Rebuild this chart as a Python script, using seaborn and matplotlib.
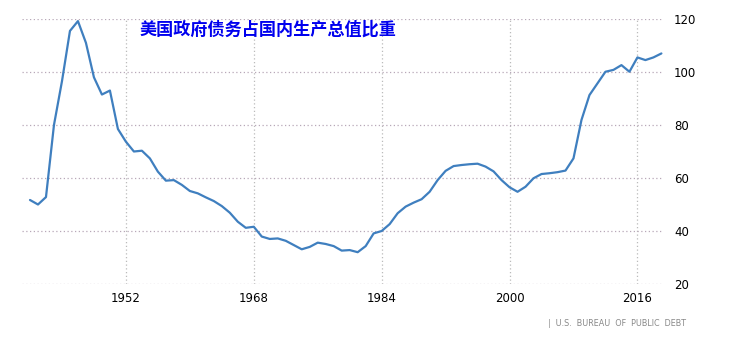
import matplotlib
matplotlib.use("Agg")
import matplotlib.pyplot as plt
import seaborn as sns
import pandas as pd
import numpy as np

years = list(range(1940, 2020))
debt_to_gdp = [
    51.7, 50.0, 52.8, 80.0, 96.5, 115.5, 119.2, 111.0, 98.0, 91.5,
    93.0, 78.5, 73.7, 70.0, 70.3, 67.4, 62.4, 59.0, 59.2, 57.4,
    55.1, 54.2, 52.7, 51.3, 49.4, 46.9, 43.5, 41.2, 41.6, 37.9,
    37.0, 37.2, 36.3, 34.7, 33.1, 34.0, 35.6, 35.1, 34.3, 32.6,
    32.8, 32.0, 34.3, 39.1, 40.0, 42.6, 46.7, 49.2, 50.7, 52.0,
    54.8, 59.2, 62.7, 64.5, 64.9, 65.2, 65.4, 64.3, 62.5, 59.2,
    56.5, 54.8, 56.7, 59.9, 61.5, 61.8, 62.2, 62.8, 67.4, 81.9,
    91.3, 95.7, 100.1, 100.8, 102.6, 100.1, 105.5, 104.5, 105.5, 107.0,
]
x_ticks = [1952, 1968, 1984, 2000, 2016]
y_ticks = [20, 40, 60, 80, 100, 120]
title = "美国政府债务占国内生产总值比重"
source = "|  U.S.  BUREAU  OF  PUBLIC  DEBT"

df = pd.DataFrame({"year": years, "value": debt_to_gdp})

sns.set_theme(style="white")
plt.rcParams["font.family"] = ["DejaVu Sans", "Noto Sans CJK SC"]

fig = plt.figure(figsize=(7.3, 3.4), dpi=100)
ax = fig.add_axes([22 / 730, 1 - 284 / 340, (663 - 22) / 730, (284 - 19) / 340])

sns.lineplot(data=df, x="year", y="value", ax=ax, color="#3f7fbf", linewidth=1.6,
             solid_joinstyle="round", solid_capstyle="round")

ax.set_xlim(1939, 2019.2)
ax.set_ylim(20, 120)
ax.set_xticks(x_ticks)
ax.set_xticklabels([str(t) for t in x_ticks])
ax.set_yticks(y_ticks)
ax.set_yticklabels([str(t) for t in y_ticks])
ax.yaxis.tick_right()
ax.tick_params(axis="both", length=0, labelsize=8.5, colors="black")
ax.tick_params(axis="y", pad=8)
ax.tick_params(axis="x", pad=6)
ax.set_xlabel("")
ax.set_ylabel("")
for s in ax.spines.values():
    s.set_visible(False)

ax.grid(True, axis="y", linestyle=(0, (1, 2)), color="#b8a8b8", linewidth=0.9)
ax.grid(True, axis="x", linestyle=(0, (1, 2)), color="#bbbbbb", linewidth=0.9)

fig.text(140 / 730, 1 - 30 / 340, title, family=["Noto Sans CJK SC", "DejaVu Sans"],
         fontsize=12.3, fontweight="bold", color="#0000ee", ha="left", va="center")
fig.text(686 / 730, 1 - 324 / 340, source, fontsize=5.8, color="#888888",
         ha="right", va="center")

fig.savefig("out.png", dpi=100)
